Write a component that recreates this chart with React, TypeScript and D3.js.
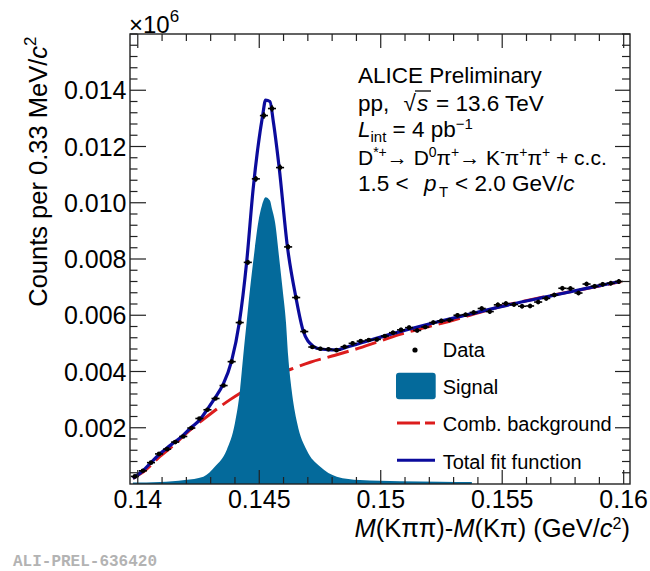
import * as d3 from 'd3';

// ── Data (values in units of 10^6 counts, as on the axis) ────────────
const BIN_FIRST = 0.13988; // centre of first bin (GeV/c^2)
const BIN_W = 0.000332;
const COUNTS = [
  0.00027, 0.00047, 0.00076, 0.00107, 0.00124, 0.00149, 0.00169, 0.00199, 0.00233, 0.00264,
  0.00304, 0.0035, 0.00435, 0.00574, 0.00788, 0.01085, 0.0131, 0.01335, 0.01125, 0.00843,
  0.00663, 0.00542, 0.00487, 0.00481, 0.00479, 0.00476, 0.00488, 0.005, 0.00508, 0.00512,
  0.00514, 0.00526, 0.00538, 0.00548, 0.00556, 0.00546, 0.00558, 0.00574, 0.0058, 0.00583,
  0.006, 0.00602, 0.0061, 0.00624, 0.00613, 0.00637, 0.00642, 0.00638, 0.00632, 0.00633,
  0.00647, 0.0066, 0.00672, 0.00696, 0.00695, 0.00679, 0.00711, 0.00703, 0.0071, 0.00714,
  0.0072,
];

const SIG_X = [
  0.1398, 0.14091, 0.14194, 0.1427, 0.14318, 0.14366, 0.144, 0.14421, 0.14434, 0.14448,
  0.14462, 0.14478, 0.14496, 0.14511, 0.14526, 0.14544, 0.14552, 0.14565, 0.14581, 0.14596,
  0.1461, 0.14619, 0.14633, 0.14656, 0.14695, 0.1475, 0.14819, 0.14914, 0.15079, 0.15244, 0.15375,
];
const SIG_Y = [
  0.00005, 0.00007, 0.00014, 0.00026, 0.00062, 0.00121, 0.00217, 0.00336, 0.00455, 0.00574,
  0.00693, 0.00812, 0.00931, 0.0099, 0.0102, 0.01008, 0.0098, 0.00931, 0.00812, 0.00693,
  0.00574, 0.00455, 0.00336, 0.00217, 0.00121, 0.00062, 0.00026, 0.00014, 0.0001, 0.00008, 0.00007,
];

const BG_X = [0.1398, 0.1403, 0.1409, 0.1415, 0.1421, 0.143, 0.1438, 0.1446, 0.1454, 0.1463, 0.1471, 0.148, 0.1491, 0.1508, 0.1528, 0.1549, 0.157, 0.159, 0.1599];
const BG_Y = [0.0002, 0.00048, 0.00097, 0.0014, 0.00188, 0.0025, 0.003, 0.00343, 0.00378, 0.00408, 0.00433, 0.00455, 0.00483, 0.00532, 0.00578, 0.0063, 0.0067, 0.00704, 0.0072];

const TOT_X = [
  0.1398, 0.14021, 0.14054, 0.14087, 0.1412, 0.14153, 0.14185, 0.14219, 0.14256, 0.14285,
  0.14318, 0.14351, 0.14386, 0.14418, 0.14448, 0.14475, 0.14514, 0.14526, 0.14544, 0.14558,
  0.14582, 0.14616, 0.14651, 0.14681, 0.14722, 0.1475, 0.14779, 0.1482, 0.14865, 0.15038,
  0.15202, 0.15367, 0.15532, 0.15696, 0.15861, 0.15984,
];
const TOT_Y = [
  0.0002, 0.00047, 0.00076, 0.00104, 0.00128, 0.0015, 0.00172, 0.002, 0.00229, 0.00264,
  0.00306, 0.00354, 0.00437, 0.00574, 0.00788, 0.0105, 0.0131, 0.01365, 0.0136, 0.01288,
  0.01125, 0.00843, 0.00663, 0.00544, 0.0049, 0.0048, 0.00478, 0.00477, 0.00488, 0.00532,
  0.0057, 0.00604, 0.00638, 0.00668, 0.00698, 0.0072,
];

const X_TICKS = [0.14, 0.145, 0.15, 0.155, 0.16];
const X_LABELS = ['0.14', '0.145', '0.15', '0.155', '0.16'];
const Y_TICKS = [0.002, 0.004, 0.006, 0.008, 0.01, 0.012, 0.014];
const Y_LABELS = ['0.002', '0.004', '0.006', '0.008', '0.010', '0.012', '0.014'];

const LEGEND = ['Data', 'Signal', 'Comb. background', 'Total fit function'];

// ── Layout / style ──────────────────────────────────────────────────
const W = 650;
const H = 571;
const L = 130, R = 630, T = 34, B = 484;
const SIGNAL_C = '#046a9b';
const BG_C = '#dc1c1c';
const TOT_C = '#0b0b9c';
const FONT = '"Liberation Sans", Arial, Helvetica, sans-serif';

export default function App() {
  const x = d3.scaleLinear().domain([0.13968, 0.16026]).range([L, R]);
  const y = d3.scaleLinear().domain([0, 0.016]).range([B, T]);

  const sigArea = d3.area<number>()
    .x((_, i) => x(SIG_X[i]))
    .y0(y(0))
    .y1(d => y(d))
    .curve(d3.curveMonotoneX)(SIG_Y) ?? '';

  const bgLine = d3.line<number>()
    .x((_, i) => x(BG_X[i]))
    .y(d => y(d))
    .curve(d3.curveMonotoneX)(BG_Y) ?? '';

  const totLine = d3.line<number>()
    .x((_, i) => x(TOT_X[i]))
    .y(d => y(d))
    .curve(d3.curveMonotoneX)(TOT_Y) ?? '';

  const xMinor = d3.range(0.14, 0.16005, 0.001).filter(v => !X_TICKS.some(t => Math.abs(t - v) < 1e-6));
  const yMinor = d3.range(0.0004, 0.01601, 0.0004).filter(v => !Y_TICKS.some(t => Math.abs(t - v) < 1e-6));

  const points = COUNTS.map((v, i) => ({
    cx: BIN_FIRST + i * BIN_W,
    v,
    err: Math.sqrt(v * 1e6) / 1e6,
  }));

  const axisC = '#222';
  const legX = 442.7;
  const legY = [357.3, 393.5, 431, 468.5];

  return (
    <svg width={W} height={H} style={{ position: 'absolute', left: 0, top: 0, background: '#fff' }} fontFamily={FONT}>
      {/* curves */}
      <path d={bgLine} fill="none" stroke={BG_C} strokeWidth={3} strokeDasharray="22,7" />
      <path d={sigArea} fill={SIGNAL_C} />
      <path d={totLine} fill="none" stroke={TOT_C} strokeWidth={3.2} />

      {/* data */}
      <g stroke="#000" strokeWidth={1.6}>
        {points.map((p, i) => (
          <g key={i}>
            <line x1={x(p.cx - BIN_W / 2)} x2={x(p.cx + BIN_W / 2)} y1={y(p.v)} y2={y(p.v)} />
            <line x1={x(p.cx)} x2={x(p.cx)} y1={y(p.v - p.err)} y2={y(p.v + p.err)} />
            <circle cx={x(p.cx)} cy={y(p.v)} r={2.3} fill="#000" stroke="none" />
          </g>
        ))}
      </g>

      {/* frame and ticks */}
      <rect x={L} y={T} width={R - L} height={B - T} fill="none" stroke={axisC} strokeWidth={1.4} />
      <g stroke={axisC} strokeWidth={1.2}>
        {X_TICKS.map(t => (
          <g key={'xt' + t}>
            <line x1={x(t)} x2={x(t)} y1={B} y2={B - 14} />
            <line x1={x(t)} x2={x(t)} y1={T} y2={T + 14} />
          </g>
        ))}
        {xMinor.map(t => (
          <g key={'xm' + t}>
            <line x1={x(t)} x2={x(t)} y1={B} y2={B - 7} />
            <line x1={x(t)} x2={x(t)} y1={T} y2={T + 7} />
          </g>
        ))}
        {Y_TICKS.map(t => (
          <g key={'yt' + t}>
            <line x1={L} x2={L + 16} y1={y(t)} y2={y(t)} />
            <line x1={R} x2={R - 15} y1={y(t)} y2={y(t)} />
          </g>
        ))}
        {yMinor.map(t => (
          <g key={'ym' + t}>
            <line x1={L} x2={L + 7.5} y1={y(t)} y2={y(t)} />
            <line x1={R} x2={R - 8} y1={y(t)} y2={y(t)} />
          </g>
        ))}
      </g>

      {/* tick labels */}
      <g fontSize={25} fill="#000">
        {Y_TICKS.map((t, i) => (
          <text key={'yl' + t} x={126.5} y={y(t) + 9} textAnchor="end">{Y_LABELS[i]}</text>
        ))}
        {X_TICKS.map((t, i) => (
          <text key={'xl' + t} x={x(t)} y={508} textAnchor="middle">{X_LABELS[i]}</text>
        ))}
      </g>
      <text x={129} y={33} fontSize={24}>×10<tspan fontSize={17} dy={-11}>6</tspan></text>

      {/* axis titles */}
      <text x={630} y={537} fontSize={25.5} textAnchor="end">
        <tspan fontStyle="italic">M</tspan>(Kππ)-<tspan fontStyle="italic">M</tspan>(Kπ) (GeV/<tspan fontStyle="italic">c</tspan>
        <tspan fontSize={16} dy={-8}>2</tspan><tspan dy={8}>)</tspan>
      </text>
      <text transform="translate(47,36.5) rotate(-90)" fontSize={25.5} textAnchor="end">
        Counts per 0.33 MeV/<tspan fontStyle="italic">c</tspan><tspan fontSize={17} dy={-11}>2</tspan>
      </text>

      {/* info text */}
      <g fontSize={22.5} fill="#000">
        <text x={358} y={82.5}>ALICE Preliminary</text>
        <text x={358} y={111}>pp,</text>
        <text x={403.5} y={111}>√</text>
        <line x1={415} x2={431} y1={91} y2={91} stroke="#000" strokeWidth={1.3} />
        <text x={417} y={111} fontStyle="italic">s</text>
        <text x={436} y={111}>= 13.6 TeV</text>
        <text x={358} y={137}>
          <tspan fontStyle="italic">L</tspan>
          <tspan fontSize={15} dy={5}>int</tspan>
          <tspan dy={-5}> = 4 pb</tspan>
          <tspan fontSize={15} dy={-8}>−1</tspan>
        </text>
        <text x={358} y={165} fontSize={21}>
          D<tspan fontSize={14} dy={-8}>*+</tspan>
          <tspan dy={8}>→ D</tspan><tspan fontSize={14} dy={-8}>0</tspan>
          <tspan dy={8}>π</tspan><tspan fontSize={14} dy={-8}>+</tspan>
          <tspan dy={8}>→ K</tspan><tspan fontSize={14} dy={-8}>-</tspan>
          <tspan dy={8}>π</tspan><tspan fontSize={14} dy={-8}>+</tspan>
          <tspan dy={8}>π</tspan><tspan fontSize={14} dy={-8}>+</tspan>
          <tspan dy={8}> + c.c.</tspan>
        </text>
        <text x={358} y={190.5}>1.5 &lt;</text>
        <text x={424} y={190.5} fontStyle="italic">p</text>
        <text x={439} y={197} fontSize={15}>T</text>
        <text x={455} y={190.5}>&lt; 2.0 GeV/<tspan fontStyle="italic">c</tspan></text>
      </g>

      {/* legend */}
      <circle cx={415} cy={350} r={2.6} fill="#000" />
      <rect x={396} y={372.7} width={39.7} height={26.6} rx={3} fill={SIGNAL_C} />
      <line x1={397} x2={435} y1={423} y2={423} stroke={BG_C} strokeWidth={3} strokeDasharray="23,5" />
      <line x1={397} x2={435} y1={460.3} y2={460.3} stroke={TOT_C} strokeWidth={3} />
      <g fontSize={20} fill="#000">
        {LEGEND.map((s, i) => (
          <text key={s} x={legX} y={legY[i]}>{s}</text>
        ))}
      </g>

      <text x={13} y={566} fontSize={16} fontWeight="bold" fill="#b3b3b3" fontFamily='"Liberation Mono", "DejaVu Sans Mono", monospace'>
        ALI-PREL-636420
      </text>
    </svg>
  );
}
